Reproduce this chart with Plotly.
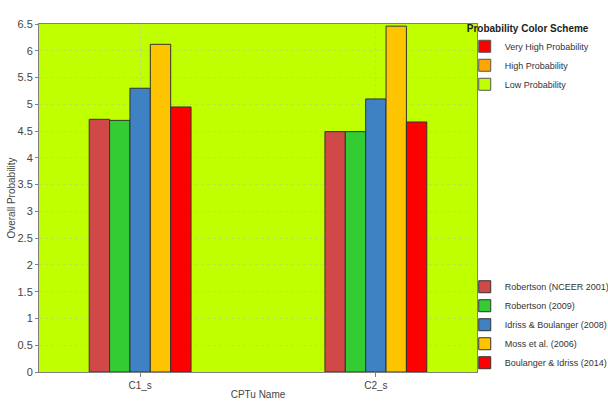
import plotly.graph_objects as go

categories = ["C1_s", "C2_s"]
series_names = ["Robertson (NCEER 2001)", "Robertson (2009)", "Idriss & Boulanger (2008)",
                "Moss et al. (2006)", "Boulanger & Idriss (2014)"]
series_values = [
    [4.72, 4.49],
    [4.70, 4.49],
    [5.30, 5.10],
    [6.12, 6.46],
    [4.95, 4.67],
]
series_colors = ["#D04848", "#33CC33", "#3F82C4", "#FFC400", "#FF0000"]

scheme_names = ["Very High Probability", "High Probability", "Low Probability"]
scheme_colors = ["#FF0000", "#FFA500", "#BFFF00"]

y_ticks = [0, 0.5, 1, 1.5, 2, 2.5, 3, 3.5, 4, 4.5, 5, 5.5, 6, 6.5]

FONT = "Liberation Sans"

fig = go.Figure()

for name, col in zip(scheme_names, scheme_colors):
    fig.add_trace(go.Scatter(
        x=[None], y=[None], mode="markers", name=name,
        marker=dict(symbol="square", size=12, color=col, line=dict(color="#555555", width=1)),
        legend="legend",
    ))

for name, vals, col in zip(series_names, series_values, series_colors):
    fig.add_trace(go.Bar(
        x=categories, y=vals, name=name,
        marker=dict(color=col, line=dict(color="#333333", width=1)),
        legend="legend2",
    ))

fig.update_layout(
    width=608, height=406,
    margin=dict(l=39, r=131, t=24, b=34, autoexpand=False),
    paper_bgcolor="white",
    plot_bgcolor="#BFFF00",
    barmode="group",
    bargap=0.568,
    bargroupgap=0,
    font=dict(family=FONT, size=10, color="#444444"),
    legend=dict(
        title=dict(text="<b>Probability Color Scheme</b>", font=dict(family=FONT, size=10, color="#222222")),
        x=0.972, xanchor="left", y=1.015, yanchor="top",
        bgcolor="rgba(0,0,0,0)", font=dict(family=FONT, size=9, color="#333333"),
        itemwidth=30, tracegroupgap=0,
    ),
    legend2=dict(
        x=0.972, xanchor="left", y=-0.015, yanchor="bottom",
        bgcolor="rgba(0,0,0,0)", font=dict(family=FONT, size=9, color="#333333"),
        itemwidth=30, tracegroupgap=0,
    ),
    xaxis=dict(
        type="category", range=[-0.429, 1.429],
        title=dict(text="CPTu Name", font=dict(size=10, color="#444444"), standoff=0),
        showline=True, linecolor="#808080", linewidth=1, mirror=True,
        ticks="outside", ticklen=4, tickcolor="#808080",
        showgrid=True, gridcolor="rgba(190,190,190,0.5)", griddash="dot",
        tickfont=dict(size=10, color="#444444"),
        zeroline=False,
    ),
    yaxis=dict(
        range=[0, 6.5], tickvals=y_ticks,
        ticktext=[("%g" % v) for v in y_ticks],
        title=dict(text="Overall Probability", font=dict(size=10, color="#444444"), standoff=0),
        showline=True, linecolor="#808080", linewidth=1, mirror=True,
        ticks="outside", ticklen=3, tickcolor="#808080",
        showgrid=True, gridcolor="rgba(190,190,190,0.5)", griddash="dot",
        tickfont=dict(size=11, color="#444444"),
        zeroline=False,
    ),
)

fig.write_html("out.html")
